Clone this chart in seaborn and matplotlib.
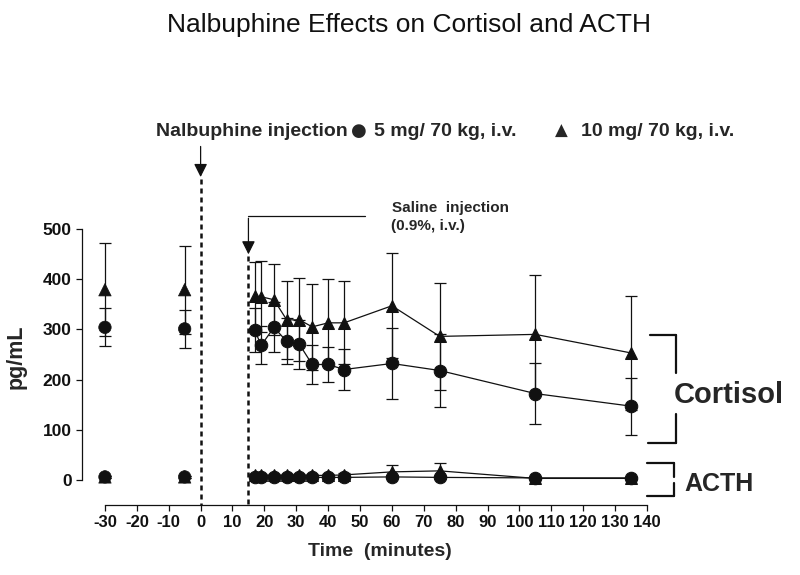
import numpy as np
import pandas as pd
import matplotlib
matplotlib.use("Agg")
import matplotlib.pyplot as plt
from matplotlib.lines import Line2D
import seaborn as sns

# ---- data ----
times = [-30, -5, 17, 19, 23, 27, 31, 35, 40, 45, 60, 75, 105, 135]
cort_5 = [304, 301, 298, 268, 304, 276, 270, 230, 230, 220, 232, 218, 172, 147]
cort_5_se = [38, 38, 44, 38, 50, 46, 48, 38, 35, 41, 71, 73, 61, 57]
cort_10 = [379, 379, 366, 365, 359, 319, 319, 305, 313, 313, 347, 286, 290, 253]
cort_10_se = [93, 88, 69, 71, 71, 78, 83, 86, 87, 83, 105, 107, 118, 114]
acth_5 = [6, 6, 5, 5, 5, 5, 5, 5, 5, 5, 6, 5, 4, 4]
acth_5_se = [2, 2, 2, 2, 2, 2, 2, 2, 2, 2, 3, 3, 2, 2]
acth_10 = [6, 6, 9, 9, 9, 9, 9, 9, 9, 10, 16, 18, 3, 3]
acth_10_se = [2, 2, 3, 3, 3, 3, 3, 3, 3, 3, 13, 16, 2, 2]
x_ticks = list(range(-30, 141, 10))
y_ticks = [0, 100, 200, 300, 400, 500]
dose_labels = ["5 mg/ 70 kg, i.v.", "10 mg/ 70 kg, i.v."]

rows = []
for analyte, d5, s5, d10, s10 in [("Cortisol", cort_5, cort_5_se, cort_10, cort_10_se),
                                   ("ACTH", acth_5, acth_5_se, acth_10, acth_10_se)]:
    for dose, vals, ses in [("10", d10, s10), ("5", d5, s5)]:
        for t, v, s in zip(times, vals, ses):
            rows.append(dict(time=t, value=v, se=s, dose=dose, analyte=analyte,
                             series=analyte + dose, phase="base" if t < 0 else "post"))
df = pd.DataFrame(rows)

sns.set_style("ticks")
plt.rcParams["font.family"] = ["Liberation Sans", "DejaVu Sans"]

W, H = 800, 575
fig = plt.figure(figsize=(8, 5.75), dpi=100)

def px(x, y):
    return x / W, 1 - y / H

# axes: y spine at x=82px, right end 647px, top (500) at 229px, bottom (x axis) at 505px
ax = fig.add_axes([82 / W, 1 - 505 / H, (647 - 82) / W, (505 - 229) / H])
INK = "#111111"
markers = {"5": "o", "10": "^"}

post = df[df.phase == "post"]
base = df[df.phase == "base"]

# error bars
for (series, dose), g in df.groupby(["series", "dose"]):
    ax.errorbar(g.time, g.value, yerr=g.se, fmt="none", ecolor=INK,
                elinewidth=0.9, capsize=4.5, capthick=0.9, zorder=2)

sns.lineplot(data=post, x="time", y="value", units="series", estimator=None,
             style="dose", markers=markers, dashes=False, color=INK,
             markersize=9, linewidth=0.9, markeredgecolor=INK, legend=False,
             ax=ax, zorder=3)
sns.scatterplot(data=base, x="time", y="value", style="dose", markers=markers,
                color=INK, s=80, edgecolor=INK, linewidth=0.5, legend=False,
                ax=ax, zorder=3)

ax.set_xlim(-37.2, 140)
ax.set_ylim(-50, 500)
ax.set_xticks(x_ticks)
ax.set_yticks(y_ticks)
ax.set_xticklabels([str(t) for t in x_ticks], fontsize=12, fontweight="bold")
ax.set_yticklabels([str(t) for t in y_ticks], fontsize=12.5, fontweight="bold")
ax.spines["top"].set_visible(False)
ax.spines["right"].set_visible(False)
ax.spines["left"].set_bounds(0, 500)
ax.spines["bottom"].set_bounds(-30, 140)
for s in ("left", "bottom"):
    ax.spines[s].set_linewidth(0.9)
    ax.spines[s].set_color(INK)
ax.tick_params(direction="out", length=4.3, width=0.9, colors=INK, pad=3)
ax.set_xlabel("")
ax.set_ylabel("")
fig.text(*px(380, 551), "Time  (minutes)", fontsize=14, fontweight="bold",
         ha="center", va="center")
fig.text(*px(16, 357), "pg/mL", rotation=90, fontsize=15.5, fontweight="bold",
         ha="center", va="center")

# injection markers
ax.plot([0, 0], [600, -50], ls=(0, (2, 1.6)), lw=1.8, color=INK, clip_on=False, zorder=1)
ax.annotate("", xy=(0, 598), xytext=(0, 670), xycoords="data",
            arrowprops=dict(arrowstyle="-|>", mutation_scale=20, color=INK, lw=0.9),
            annotation_clip=False)
ax.plot([15, 15], [446, -50], ls=(0, (2, 1.6)), lw=1.8, color=INK, clip_on=False, zorder=1)
ax.plot([51.5, 15], [526, 526], lw=0.9, color=INK, clip_on=False)
ax.annotate("", xy=(15, 444), xytext=(15, 527), xycoords="data",
            arrowprops=dict(arrowstyle="-|>", mutation_scale=20, color=INK, lw=0.9),
            annotation_clip=False)

# texts
fig.text(*px(409, 25), "Nalbuphine Effects on Cortisol and ACTH", fontsize=19,
         ha="center", va="center", color=INK)
fig.text(*px(156, 131), "Nalbuphine injection", fontsize=14, fontweight="bold",
         ha="left", va="center")
fig.text(*px(351, 131), "\u25CF", fontsize=13, ha="left", va="center",
         family=["DejaVu Sans"])
fig.text(*px(374, 131), dose_labels[0], fontsize=14, fontweight="bold", ha="left", va="center")
fig.text(*px(555, 131), "\u25B2", fontsize=12, ha="left", va="center",
         family=["DejaVu Sans"])
fig.text(*px(581, 131), dose_labels[1], fontsize=14, fontweight="bold", ha="left", va="center")
fig.text(*px(392, 208), "Saline  injection", fontsize=11, fontweight="bold",
         ha="left", va="center")
fig.text(*px(391, 226), "(0.9%, i.v.)", fontsize=11, fontweight="bold",
         ha="left", va="center")

# brackets
def seg(x0, y0, x1, y1):
    fig.add_artist(Line2D([x0 / W, x1 / W], [1 - y0 / H, 1 - y1 / H], lw=1.6, color=INK))

seg(650, 335, 676, 335); seg(676, 335, 676, 373)
seg(676, 414, 676, 443); seg(648, 443, 676, 443)
seg(647, 463, 674, 463); seg(674, 463, 674, 477)
seg(674, 483, 674, 496); seg(647, 496, 674, 496)
fig.text(*px(729, 395), "Cortisol", fontsize=21, fontweight="bold", ha="center", va="center")
fig.text(*px(719, 484), "ACTH", fontsize=18, fontweight="bold", ha="center", va="center")

fig.savefig("out.png", dpi=100)
